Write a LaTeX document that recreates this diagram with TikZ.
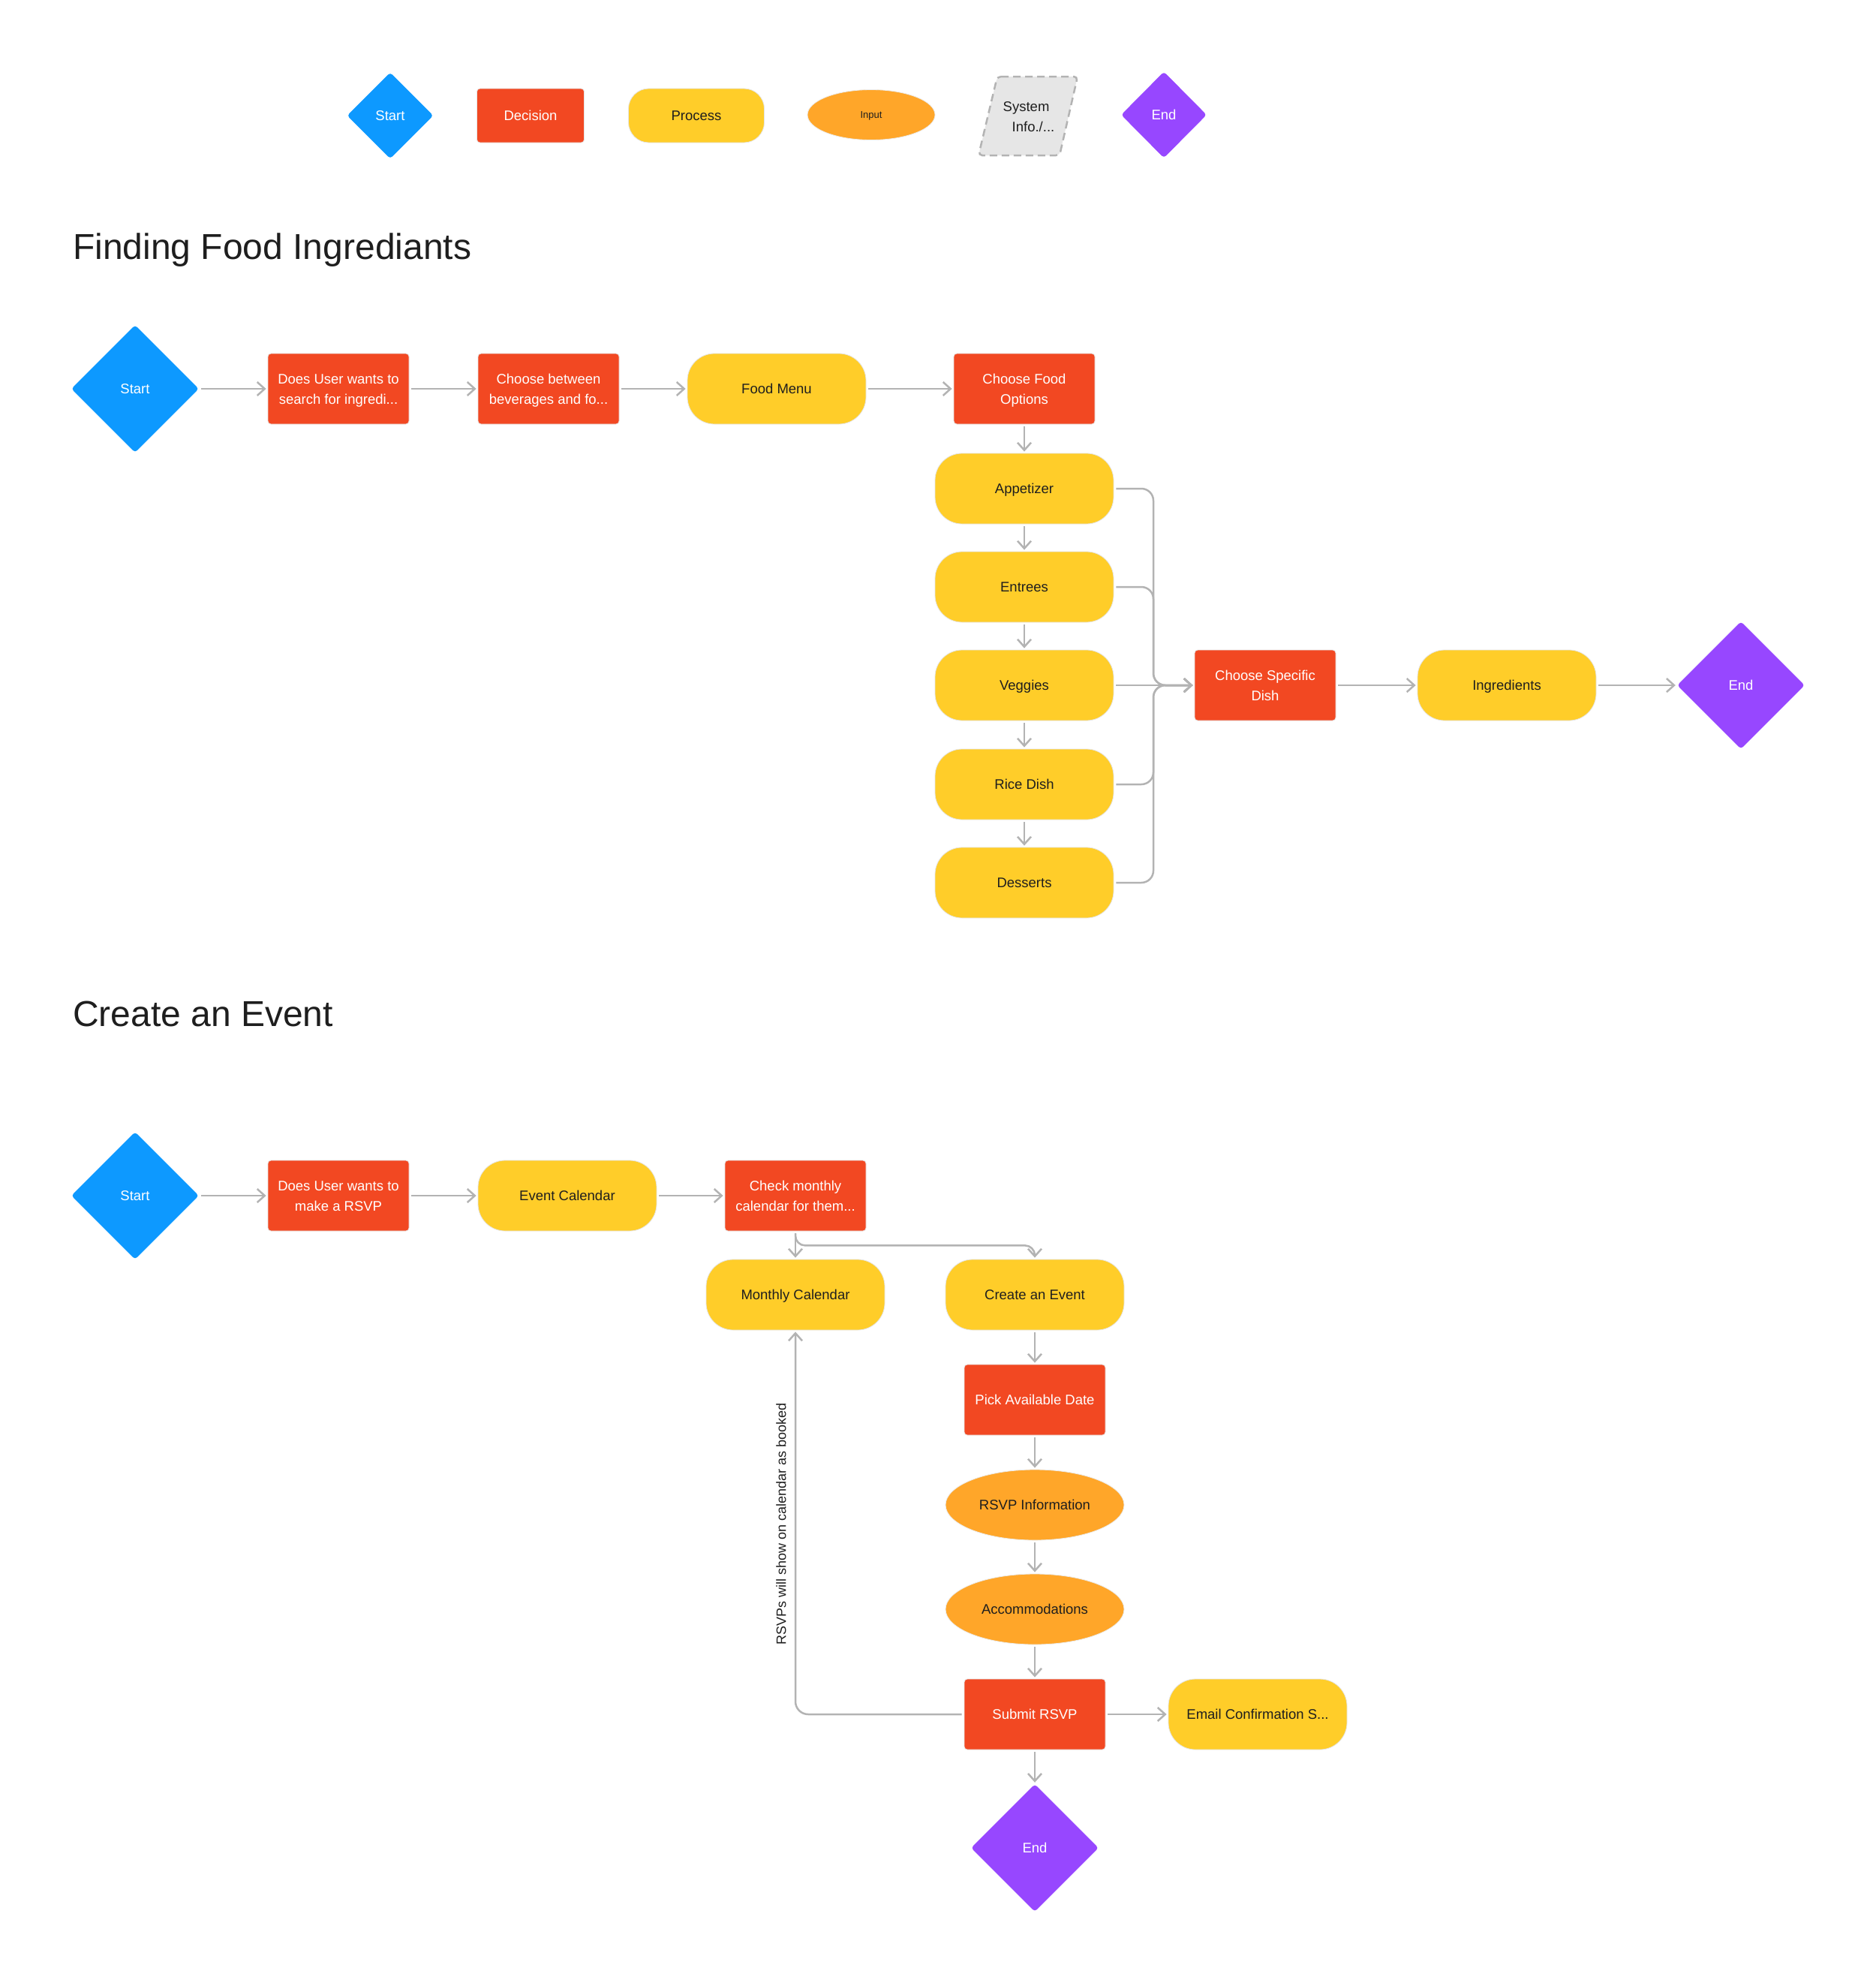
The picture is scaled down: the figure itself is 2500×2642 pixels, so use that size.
\documentclass[tikz,border=0pt]{standalone}
\usepackage{fontspec}
\setmainfont{Liberation Sans}
\usetikzlibrary{shapes.geometric,arrows.meta}
\definecolor{cblue}{HTML}{0D99FF}
\definecolor{cred}{HTML}{F24822}
\definecolor{cyellow}{HTML}{FFCD29}
\definecolor{corange}{HTML}{FFA629}
\definecolor{cpurple}{HTML}{9747FF}
\definecolor{cgray}{HTML}{B3B3B3}
\definecolor{cdark}{HTML}{1E1E1E}
\definecolor{csys}{HTML}{E6E6E6}
\newcommand{\boxfont}{\fontsize{18.5}{27}\selectfont}
\tikzset{
  lone/.style={text height=13.5pt, text depth=0pt},
  ltwo/.style={text height=40.5pt, text depth=0pt},
  startd/.style={diamond, aspect=1, fill=cblue, minimum width=170pt, minimum height=170pt, inner sep=0pt, text=white, font=\boxfont, rounded corners=4pt, lone},
  endd/.style={startd, fill=cpurple},
  dec/.style={rectangle, fill=cred, draw=black!10, line width=0.8pt, minimum width=188pt, minimum height=94pt, rounded corners=4pt, text=white, font=\boxfont, align=center, lone},
  proc/.style={rectangle, fill=cyellow, draw=black!10, line width=0.8pt, minimum width=238pt, minimum height=94pt, rounded corners=36pt, text=cdark, font=\boxfont, align=center, lone},
  inp/.style={ellipse, fill=corange, draw=black!8, line width=0.8pt, minimum width=238pt, minimum height=94pt, inner sep=0pt, text=cdark, font=\boxfont, align=center, lone},
  conn/.style={draw=cgray, line width=2.5pt, -{Straight Barb[length=10pt,width=18pt]}, shorten >=2pt, shorten <=3pt},
  title/.style={anchor=base west, inner sep=0pt, text=cdark, font=\fontsize{48}{56}\selectfont},
  lbl/.style={text=cdark, font=\fontsize{18}{22}\selectfont, inner sep=0pt},
  sysbox/.style={draw=cgray, fill=csys, line width=2.5pt, dash pattern=on 10pt off 6pt, rounded corners=5pt}
}
\begin{document}
\begin{tikzpicture}[x=1pt,y=-1pt]
\useasboundingbox[fill=white] (0,0) rectangle (2500,2642);

% ---------- legend ----------
\node[startd, minimum width=115pt, minimum height=115pt] (lstart) at (520,154) {Start};
\node[dec, minimum width=143pt, minimum height=72pt] (ldec) at (707,154) {Decision};
\node[proc, minimum width=181pt, minimum height=72pt, rounded corners=27pt] (lproc) at (928,154) {Process};
\node[inp, minimum width=170pt, minimum height=67pt, font=\fontsize{13}{16}\selectfont, text height=9.5pt] (linp) at (1161,153) {Input};
\draw[sysbox] (1329,102) -- (1436,102) -- (1412,207) -- (1304,207) -- cycle;
\node[text=cdark, font=\boxfont, align=left, ltwo] (lsys) at (1371,155) {System\\\hspace*{12pt}Info./...};
\node[endd, minimum width=114pt, minimum height=115pt] (lend) at (1551,153) {End};

% ---------- section 1 ----------
\node[title] (t1) at (97,345) {Finding Food Ingrediants};

\node[startd] (s1) at (180,518) {Start};
\node[dec, ltwo] (d1) at (451,518) {Does User wants to\\search for ingredi...};
\node[dec, ltwo] (d2) at (731,518) {Choose between\\beverages and fo...};
\node[proc] (fm) at (1035,518) {Food Menu};
\node[dec, ltwo] (cfo) at (1365,518) {Choose Food\\Options};
\node[proc] (app) at (1365,651) {Appetizer};
\node[proc] (ent) at (1365,782) {Entrees};
\node[proc] (veg) at (1365,913) {Veggies};
\node[proc] (rice) at (1365,1045) {Rice Dish};
\node[proc] (des) at (1365,1176) {Desserts};
\node[dec, ltwo] (csd) at (1686,913) {Choose Specific\\Dish};
\node[proc] (ing) at (2008,913) {Ingredients};
\node[endd] (e1) at (2320,913) {End};
\coordinate (busx) at (1537,913);

\draw[conn] (s1) -- (d1);
\draw[conn] (d1) -- (d2);
\draw[conn] (d2) -- (fm);
\draw[conn] (fm) -- (cfo);
\draw[conn] (cfo) -- (app);
\draw[conn] (app) -- (ent);
\draw[conn] (ent) -- (veg);
\draw[conn] (veg) -- (rice);
\draw[conn] (rice) -- (des);
\draw[conn, rounded corners=16pt] (app.east) -- (app.east -| busx) -- (busx) -- (csd.west);
\draw[conn, rounded corners=16pt] (ent.east) -- (ent.east -| busx) -- (busx) -- (csd.west);
\draw[conn] (veg.east) -- (csd.west);
\draw[conn, rounded corners=16pt] (rice.east) -- (rice.east -| busx) -- (busx) -- (csd.west);
\draw[conn, rounded corners=16pt] (des.east) -- (des.east -| busx) -- (busx) -- (csd.west);
\draw[conn] (csd) -- (ing);
\draw[conn] (ing) -- (e1);

% ---------- section 2 ----------
\node[title] (t2) at (97,1367) {Create an Event};

\node[startd] (s2) at (180,1593) {Start};
\node[dec, ltwo] (d3) at (451,1593) {Does User wants to\\make a RSVP};
\node[proc] (ec) at (756,1593) {Event Calendar};
\node[dec, ltwo] (cm) at (1060,1593) {Check monthly\\calendar for them...};
\node[proc] (mc) at (1060,1725) {Monthly Calendar};
\node[proc] (ce) at (1379,1725) {Create an Event};
\node[dec] (pad) at (1379,1865) {Pick Available Date};
\node[inp] (rsvp) at (1379,2005) {RSVP Information};
\node[inp] (acc) at (1379,2144) {Accommodations};
\node[dec] (sub) at (1379,2284) {Submit RSVP};
\node[proc] (em) at (1676,2284) {Email Confirmation S...};
\node[endd] (e2) at (1379,2462) {End};
\node[lbl, rotate=90] (lab) at (1041,2030) {RSVPs will show on calendar as booked};

\draw[conn] (s2) -- (d3);
\draw[conn] (d3) -- (ec);
\draw[conn] (ec) -- (cm);
\draw[conn] (cm.south) -- (mc.north);
\draw[conn, rounded corners=13pt] (cm.south) -- ++(0,19) -| (ce.north);
\draw[conn] (ce) -- (pad);
\draw[conn] (pad) -- (rsvp);
\draw[conn] (rsvp) -- (acc);
\draw[conn] (acc) -- (sub);
\draw[conn] (sub) -- (em);
\draw[conn] (sub) -- (e2);
\draw[conn, rounded corners=17pt] (sub.west) -| (mc.south);
\end{tikzpicture}
\end{document}
